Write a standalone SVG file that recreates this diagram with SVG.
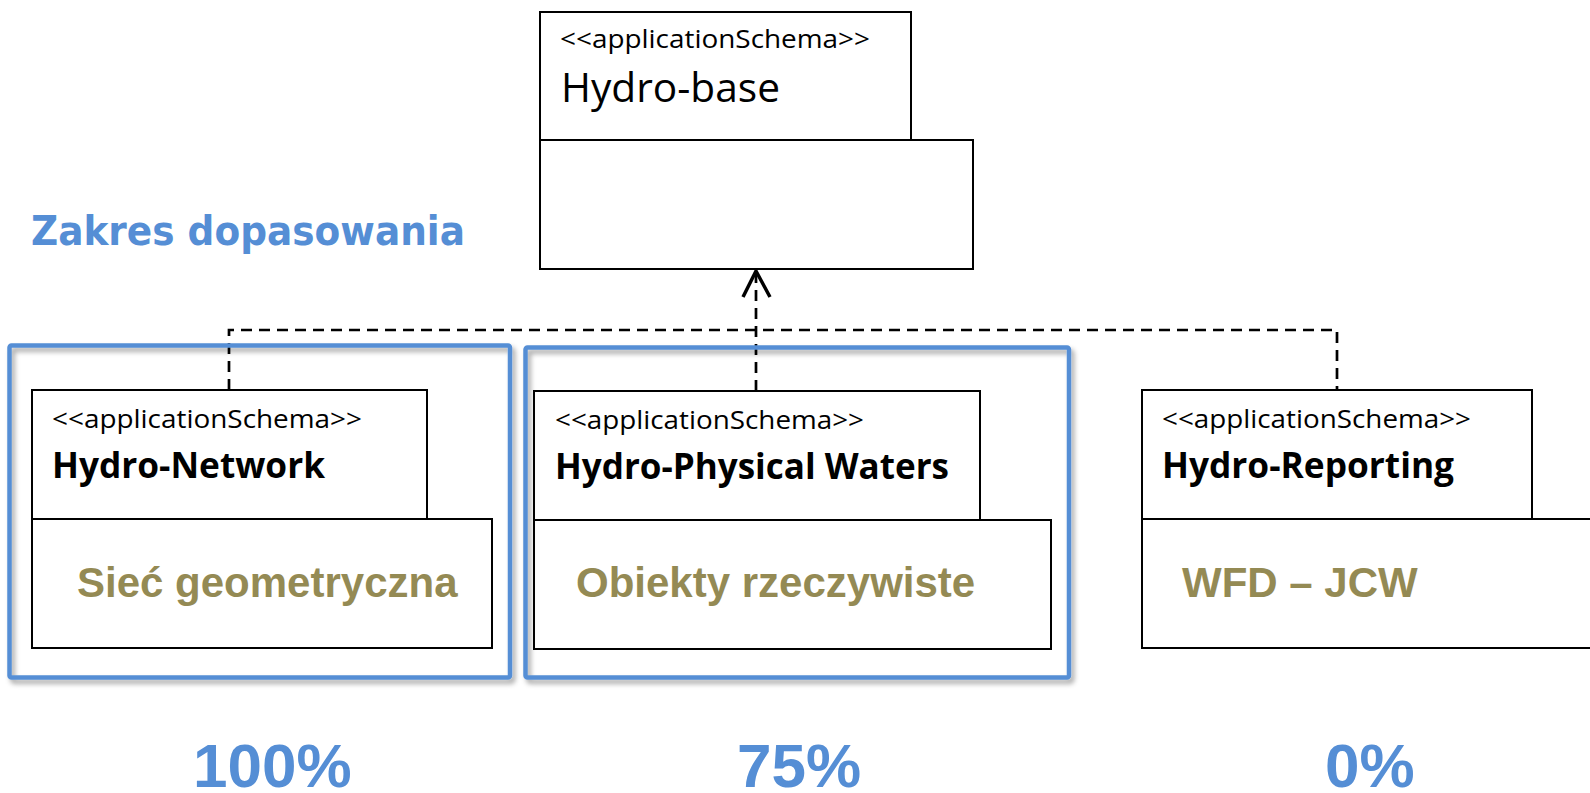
<svg xmlns="http://www.w3.org/2000/svg" width="1590" height="793" viewBox="0 0 1590 793">
  <defs>
    <filter id="frameShadow" x="-5%" y="-5%" width="112%" height="112%">
      <feGaussianBlur in="SourceAlpha" stdDeviation="2.5" result="blur"/>
      <feOffset in="blur" dx="3" dy="4" result="off"/>
      <feFlood flood-color="#000" flood-opacity="0.35"/>
      <feComposite in2="off" operator="in" result="shadow"/>
      <feMerge>
        <feMergeNode in="shadow"/>
        <feMergeNode in="SourceGraphic"/>
      </feMerge>
    </filter>
  </defs>
  <style>
    .pkg { fill: #fff; stroke: #000; stroke-width: 2; }
    .stereo { font-family: "Open Sans", "Noto Sans", sans-serif; font-size: 26px; fill: #000; }
    .name { font-family: "Open Sans", "Noto Sans", sans-serif; font-size: 35px; font-weight: bold; fill: #000; }
    .base { font-family: "Open Sans", "Noto Sans", sans-serif; font-size: 41px; fill: #000; }
    .scope { font-family: "Liberation Sans", Arial, sans-serif; font-size: 42px; font-weight: bold; fill: #948A54; }
    .heading { font-family: "DejaVu Sans", Verdana, sans-serif; font-size: 40px; font-weight: bold; fill: #558ED5; }
    .pct { font-family: "Liberation Sans", Arial, sans-serif; font-size: 62px; font-weight: bold; fill: #558ED5; }
    .dep { fill: none; stroke: #000; stroke-width: 2.7; stroke-dasharray: 11 7; }
    .head { fill: none; stroke: #000; stroke-width: 3.5; stroke-linejoin: miter; }
    .frame { fill: none; stroke: #558ED5; stroke-width: 4.5; filter: url(#frameShadow); }
  </style>

  <!-- heading -->
  <text class="heading" x="31" y="245" textLength="434" lengthAdjust="spacingAndGlyphs">Zakres dopasowania</text>

  <!-- dependency connectors -->
  <g id="connectors">
    <path class="dep" d="M229,390 V330 H1337 V390"/>
    <path class="dep" d="M756,391 V272"/>
    <polyline class="head" points="743,297 756,271 770,297"/>
  </g>

  <!-- Hydro-base package -->
  <g id="hydro-base">
    <rect class="pkg" x="540" y="12" width="371" height="128"/>
    <rect class="pkg" x="540" y="140" width="433" height="129"/>
    <text class="stereo" x="560" y="48" textLength="310" lengthAdjust="spacingAndGlyphs">&lt;&lt;applicationSchema&gt;&gt;</text>
    <text class="base" x="561" y="102" textLength="219" lengthAdjust="spacingAndGlyphs">Hydro-base</text>
  </g>

  <!-- Hydro-Network package -->
  <g id="hydro-network">
    <rect class="pkg" x="32" y="390" width="395" height="129"/>
    <rect class="pkg" x="32" y="519" width="460" height="129"/>
    <text class="stereo" x="52" y="428" textLength="310" lengthAdjust="spacingAndGlyphs">&lt;&lt;applicationSchema&gt;&gt;</text>
    <text class="name" x="52" y="478" textLength="273" lengthAdjust="spacingAndGlyphs">Hydro-Network</text>
    <text class="scope" x="77" y="597">Sieć geometryczna</text>
  </g>

  <!-- Hydro-Physical Waters package -->
  <g id="hydro-physical-waters">
    <rect class="pkg" x="534" y="391" width="446" height="129"/>
    <rect class="pkg" x="534" y="520" width="517" height="129"/>
    <text class="stereo" x="555" y="429" textLength="309" lengthAdjust="spacingAndGlyphs">&lt;&lt;applicationSchema&gt;&gt;</text>
    <text class="name" x="555" y="479" textLength="394" lengthAdjust="spacingAndGlyphs">Hydro-Physical Waters</text>
    <text class="scope" x="576" y="597">Obiekty rzeczywiste</text>
  </g>

  <!-- Hydro-Reporting package -->
  <g id="hydro-reporting">
    <rect class="pkg" x="1142" y="390" width="390" height="129"/>
    <rect class="pkg" x="1142" y="519" width="460" height="129"/>
    <text class="stereo" x="1162" y="428" textLength="309" lengthAdjust="spacingAndGlyphs">&lt;&lt;applicationSchema&gt;&gt;</text>
    <text class="name" x="1162" y="478" textLength="292" lengthAdjust="spacingAndGlyphs">Hydro-Reporting</text>
    <text class="scope" x="1182" y="597">WFD – JCW</text>
  </g>

  <!-- scope frames -->
  <g id="scope-frames">
    <rect class="frame" x="9.5" y="345.5" width="500.5" height="332" rx="2"/>
    <rect class="frame" x="525.5" y="347.5" width="543.5" height="330" rx="2"/>
  </g>

  <!-- coverage figures -->
  <g id="coverage">
    <text class="pct" x="193" y="787">100%</text>
    <text class="pct" x="737" y="787">75%</text>
    <text class="pct" x="1325" y="787">0%</text>
  </g>
</svg>
